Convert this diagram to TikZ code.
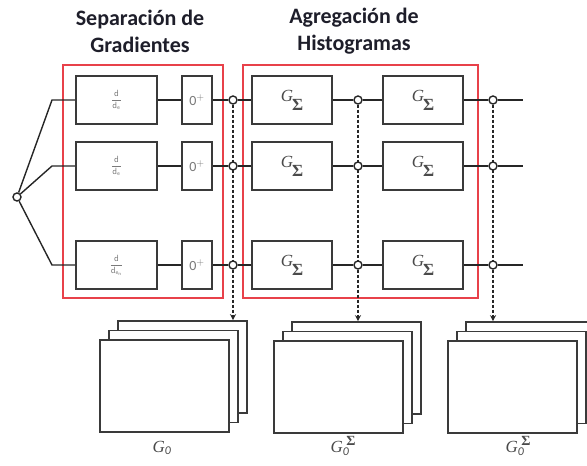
\documentclass[tikz,border=0pt]{standalone}
\usepackage{amsmath}
\usepackage{fontspec}
\setmainfont{Carlito}
\newfontfamily\lserif{Liberation Serif}
\usetikzlibrary{arrows.meta}
\pgfdeclarelayer{background}
\pgfsetlayers{background,main}
\definecolor{redbox}{HTML}{E8414A}
\definecolor{boxline}{HTML}{3A3A3A}
\definecolor{txtgrey}{HTML}{7A7A7A}
\definecolor{lblgrey}{HTML}{4A4A4A}
\definecolor{titlecol}{HTML}{1E1E2A}
\begin{document}
\begin{tikzpicture}[x=1pt,y=-1pt,
  blk/.style={draw=boxline,line width=1.6pt,fill=white,minimum height=48pt,inner sep=0pt},
  dbox/.style={blk,minimum width=81pt,text=txtgrey,font=\fontsize{9}{10}\selectfont},
  zbox/.style={blk,minimum width=30pt,text=txtgrey,font=\fontsize{14}{15}\selectfont},
  gbox/.style={blk,minimum width=80pt,text=lblgrey,font=\fontsize{17}{18}\selectfont},
  junc/.style={circle,draw=black!85,line width=1.4pt,fill=white,minimum size=8pt,inner sep=0pt},
  wire/.style={draw=black!85,line width=1.4pt},
  tap/.style={draw=black!85,line width=1.4pt,dash pattern=on 3pt off 2pt,-{Stealth[length=6pt,width=6pt]}},
  grp/.style={draw=redbox,line width=1.3pt},
  frame/.style={draw=boxline,line width=1.6pt,fill=white,minimum width=129pt,minimum height=92pt,inner sep=0pt},
  ttl/.style={font=\fontsize{22}{27}\selectfont\bfseries,text=titlecol,align=center},
  stk/.style={text=lblgrey,font=\fontsize{17}{18}\selectfont}
]
\useasboundingbox (0,0) rectangle (587,466);
\clip (0,0) rectangle (587,466);

\newcommand{\GS}{\raisebox{4pt}{\lserif\itshape G}\kern-1pt\raisebox{-5pt}{\lserif\bfseries Σ}}
\newcommand{\GOS}{{\lserif\itshape G}$_{\mathit{0}}$\kern-3pt\raisebox{7pt}{\lserif\bfseries\fontsize{14}{14}\selectfont Σ}}

% titles
\node[ttl] (t1) at (140,31) {Separación de\\Gradientes};
\node[ttl] (t2) at (354,31) {Agregación de\\Histogramas};

% splitter
\node[junc] (s) at (17,197) {};
\coordinate (b1) at (52,100);
\coordinate (b2) at (52,166);
\coordinate (b3) at (52,265);

\foreach \i/\y/\s in {1/100/{e},2/166/{e},3/265/{e_n}} {
  \node[dbox] (d\i) at (116.5,\y) {$\dfrac{\mathsf{d}}{\mathsf{d}_{\mathsf{\s}}}$};
  \node[zbox] (z\i) at (197,\y) {0$^{+}$};
  \node[junc] (ca\i) at (233,\y) {};
  \node[gbox] (ga\i) at (292,\y) {\GS};
  \node[junc] (cb\i) at (358,\y) {};
  \node[gbox] (gb\i) at (423,\y) {\GS};
  \node[junc] (cc\i) at (493,\y) {};
  \coordinate (e\i) at (523,\y);
}

% stacks
\foreach \k/\x/\y in {1/164.5/386,2/338.5/387,3/512.5/387} {
  \node[frame] (bk\k) at (\x+18,\y-19) {};
  \node[frame] (md\k) at (\x+9,\y-9.5) {};
  \node[frame] (fr\k) at (\x,\y) {};
}
\node[stk] (l1) at (162,448) {{\lserif\itshape G}$_{\mathit{0}}$};
\node[stk] (l2) at (343,446) {\GOS};
\node[stk] (l3) at (518,446) {\GOS};

\begin{pgfonlayer}{background}
  \draw[grp] (63,65) rectangle (223,298);
  \draw[grp] (243,65) rectangle (478,298);
  \foreach \i in {1,2,3} {
    \draw[wire] (s) -- (b\i) -- (d\i.west);
    \draw[wire] (d\i) -- (z\i);
    \draw[wire] (z\i) -- (ca\i);
    \draw[wire] (ca\i) -- (ga\i);
    \draw[wire] (ga\i) -- (cb\i);
    \draw[wire] (cb\i) -- (gb\i);
    \draw[wire] (gb\i) -- (cc\i);
    \draw[wire] (cc\i) -- (e\i);
  }
  \draw[tap] (ca1) -- (ca1 |- bk1.north);
  \draw[tap] (cb1) -- (cb1 |- bk2.north);
  \draw[tap] (cc1) -- (cc1 |- bk3.north);
\end{pgfonlayer}
\end{tikzpicture}
\end{document}
